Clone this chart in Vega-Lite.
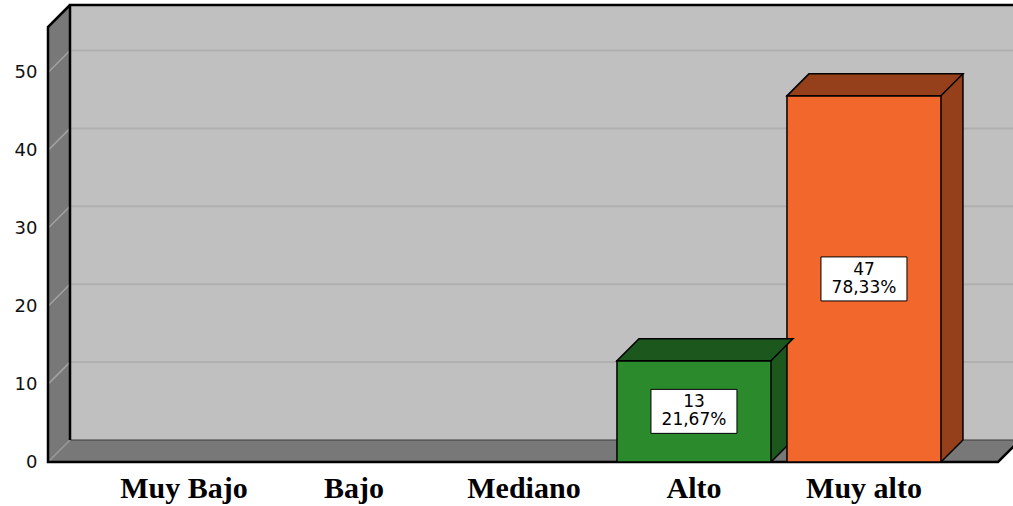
{
  "$schema": "https://vega.github.io/schema/vega-lite/v6.json",
  "width": 943,
  "height": 435,
  "autosize": {"type": "none"},
  "padding": {"left": 70, "top": 5, "right": 0, "bottom": 66},
  "background": "white",
  "config": {"view": {"fill": "#C0C0C0", "stroke": null}},
  "data": {
    "values": [
      {"cat": "Muy Bajo", "n": 0, "pct": "0,00%"},
      {"cat": "Bajo", "n": 0, "pct": "0,00%"},
      {"cat": "Mediano", "n": 0, "pct": "0,00%"},
      {"cat": "Alto", "n": 13, "pct": "21,67%"},
      {"cat": "Muy alto", "n": 47, "pct": "78,33%"}
    ]
  },
  "resolve": {"scale": {"y": "independent"}, "axis": {"y": "independent"}},
  "layer": [
    {
      "layer": [
        {
          "transform": [{"filter": "datum.n > 0"}],
          "mark": {"type": "bar", "xOffset": -22, "x2Offset": -22, "yOffset": 22, "y2Offset": 22, "opacity": 0},
          "encoding": {
            "x": {
              "field": "cat", "type": "nominal", "sort": null,
              "scale": {"domain": ["Muy Bajo", "Bajo", "Mediano", "Alto", "Muy alto"], "paddingInner": 0.0941, "paddingOuter": 0.3206, "align": 0.541},
              "axis": {"title": null, "labelAngle": 0, "offset": 22, "labelOffset": -22, "labelPadding": 11, "labelFont": "Liberation Serif", "labelFontSize": 30, "labelFontWeight": "bold", "labelColor": "#000000", "domain": false, "ticks": false, "grid": false}
            },
            "y": {
              "field": "n", "type": "quantitative",
              "scale": {"domain": [0, 55.84], "nice": false},
              "axis": {"title": null, "values": [0, 10, 20, 30, 40, 50], "offset": 22, "labelOffset": 22, "labelPadding": 11, "labelFlush": false, "labelFont": "DejaVu Sans", "labelFontSize": 18, "labelColor": "#111111", "domain": false, "ticks": false, "grid": false}
            }
          }
        },
        {
          "data": {"values": [{"t": 10}, {"t": 20}, {"t": 30}, {"t": 40}, {"t": 50}]},
          "mark": {"type": "rule", "color": "#B0B0B0", "strokeWidth": 2},
          "encoding": {
            "x": {"value": 0},
            "x2": {"value": 960},
            "y": {"field": "t", "type": "quantitative", "title": null}
          }
        },
        {
          "data": {"values": [{"k": "wall"}]},
          "mark": {"type": "point", "shape": "M-22,-413 L0,-435 L0,0 L950,0 L928,22 L-22,22 Z", "size": 4, "filled": true, "opacity": 1, "color": "#787878", "strokeWidth": 0},
          "encoding": {"x": {"value": 0}, "y": {"datum": 0, "type": "quantitative"}}
        },
        {
          "data": {"values": [{"t": 10}, {"t": 20}, {"t": 30}, {"t": 40}, {"t": 50}]},
          "mark": {"type": "rule", "color": "#A3A3A3", "strokeWidth": 1.5, "y2Offset": 22},
          "encoding": {
            "x": {"value": 0},
            "x2": {"value": -22},
            "y": {"field": "t", "type": "quantitative", "title": null},
            "y2": {"field": "t"}
          }
        },
        {
          "data": {"values": [{"k": "wall"}]},
          "mark": {"type": "point", "shape": "M0,0 L950,0", "size": 4, "filled": false, "opacity": 1, "color": "#3A3A3A", "strokeWidth": 1},
          "encoding": {"x": {"value": 0}, "y": {"datum": 0, "type": "quantitative"}}
        },
        {
          "data": {"values": [{"k": "wall"}]},
          "mark": {"type": "point", "shape": "M-22,22 L0,0", "size": 4, "filled": false, "opacity": 1, "color": "#9A9A9A", "strokeWidth": 1.5},
          "encoding": {"x": {"value": 0}, "y": {"datum": 0, "type": "quantitative"}}
        },
        {
          "data": {"values": [{"k": "wall"}]},
          "mark": {"type": "point", "shape": "M980,-435 L0,-435 L0,0 M0,-435 L-22,-413 L-22,22 L928,22 L950,0", "size": 4, "filled": false, "opacity": 1, "color": "#000000", "strokeWidth": 2.5},
          "encoding": {"x": {"value": 0}, "y": {"datum": 0, "type": "quantitative"}}
        },
        {
          "transform": [{"filter": "datum.n > 0"}],
          "mark": {"type": "rule", "strokeWidth": 22, "strokeCap": "butt", "xOffset": 66},
          "encoding": {
            "x": {"field": "cat", "type": "nominal", "title": null},
            "y": {"field": "n", "type": "quantitative", "title": null},
            "y2": {"datum": 0},
            "color": {"field": "cat", "type": "nominal", "scale": {"domain": ["Alto", "Muy alto"], "range": ["#1C571D", "#96401B"]}, "legend": null}
          }
        },
        {
          "transform": [{"filter": "datum.n > 0"}],
          "mark": {"type": "point", "shape": "M55,0 L77,0 L55,22 Z", "size": 4, "filled": true, "opacity": 1, "strokeWidth": 0},
          "encoding": {
            "x": {"field": "cat", "type": "nominal", "title": null},
            "y": {"datum": 0, "type": "quantitative"},
            "color": {"field": "cat", "type": "nominal", "legend": null}
          }
        },
        {
          "transform": [{"filter": "datum.n > 0"}],
          "mark": {"type": "rule", "strokeWidth": 1.5, "color": "#000000", "xOffset": 77},
          "encoding": {
            "x": {"field": "cat", "type": "nominal", "title": null},
            "y": {"field": "n", "type": "quantitative", "title": null},
            "y2": {"datum": 0}
          }
        },
        {
          "transform": [{"filter": "datum.n > 0"}],
          "mark": {"type": "point", "shape": "M77,0 L55,22", "size": 4, "filled": false, "opacity": 1, "color": "#000000", "strokeWidth": 1.5},
          "encoding": {
            "x": {"field": "cat", "type": "nominal", "title": null},
            "y": {"datum": 0, "type": "quantitative"}
          }
        },
        {
          "transform": [{"filter": "datum.n > 0"}],
          "mark": {"type": "bar", "stroke": "#000000", "strokeWidth": 1.5, "xOffset": -22, "x2Offset": -22, "yOffset": 22, "y2Offset": 22},
          "encoding": {
            "x": {"field": "cat", "type": "nominal", "title": null},
            "y": {"field": "n", "type": "quantitative", "title": null},
            "fill": {"field": "cat", "type": "nominal", "scale": {"domain": ["Alto", "Muy alto"], "range": ["#2A8A2C", "#F2672C"]}, "legend": null}
          }
        },
        {
          "transform": [{"filter": "datum.n > 0"}],
          "mark": {"type": "point", "shape": "M-77,0 L77,0 L55,22 L-99,22 Z", "size": 4, "filled": true, "opacity": 1, "stroke": "#000000", "strokeWidth": 1.5},
          "encoding": {
            "x": {"field": "cat", "type": "nominal", "title": null},
            "y": {"field": "n", "type": "quantitative", "title": null},
            "color": {"field": "cat", "type": "nominal", "legend": null}
          }
        }
      ]
    },
    {
      "transform": [{"filter": "datum.n > 0"}],
      "layer": [
        {
          "mark": {"type": "point", "shape": "M-65,0 L21,0 L21,44 L-65,44 Z", "size": 4, "filled": true, "opacity": 1, "color": "#FFFFFF", "stroke": "#000000", "strokeWidth": 1},
          "encoding": {
            "x": {"field": "cat", "type": "nominal", "title": null},
            "y": {"field": "n", "type": "quantitative", "scale": {"domain": [0, 111.68], "nice": false}, "axis": null}
          }
        },
        {
          "mark": {"type": "text", "dx": -22, "dy": 13, "font": "DejaVu Sans", "fontSize": 17, "color": "#000000", "baseline": "middle", "align": "center"},
          "encoding": {
            "x": {"field": "cat", "type": "nominal", "title": null},
            "y": {"field": "n", "type": "quantitative", "axis": null},
            "text": {"field": "n", "type": "quantitative"}
          }
        },
        {
          "mark": {"type": "text", "dx": -22, "dy": 31, "font": "DejaVu Sans", "fontSize": 17, "color": "#000000", "baseline": "middle", "align": "center"},
          "encoding": {
            "x": {"field": "cat", "type": "nominal", "title": null},
            "y": {"field": "n", "type": "quantitative", "axis": null},
            "text": {"field": "pct", "type": "nominal"}
          }
        }
      ]
    }
  ]
}
